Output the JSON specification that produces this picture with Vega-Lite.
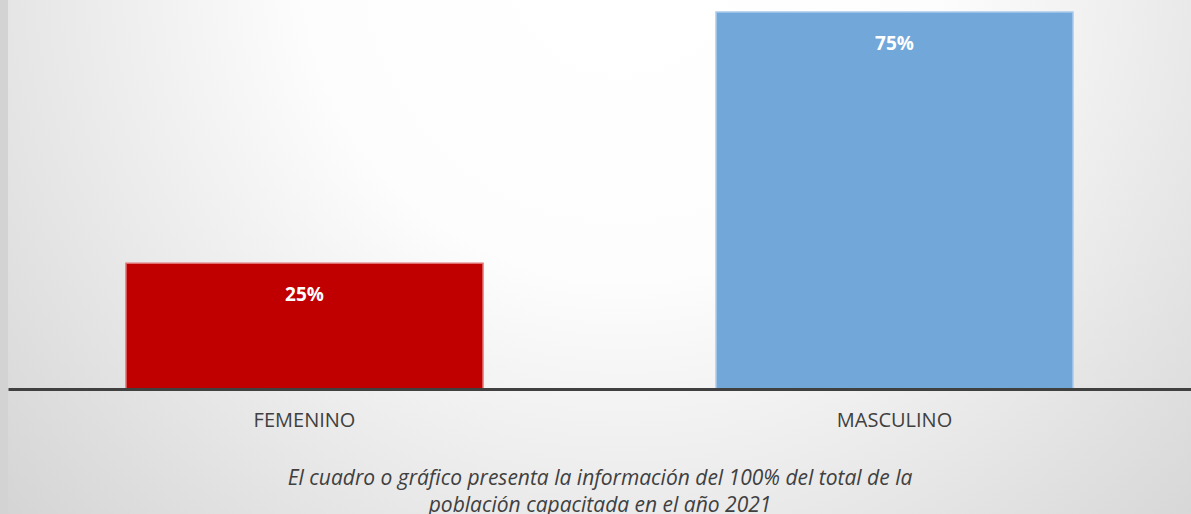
{
  "$schema": "https://vega.github.io/schema/vega-lite/v6.json",
  "width": 1183,
  "height": 514,
  "autosize": {"type": "none"},
  "padding": {"left": 8, "top": 0, "right": 0, "bottom": 0},
  "background": "#d3d3d3",
  "config": {"view": {"stroke": null}},
  "data": {"values": [{"sexo": "FEMENINO", "pct": 25, "label": "25%"}, {"sexo": "MASCULINO", "pct": 75, "label": "75%"}]},
  "layer": [
    {
      "mark": {"type": "rect", "color": {"gradient": "radial", "x1": 0.52, "y1": 0.25, "r1": 0.05, "x2": 0.52, "y2": 0.25, "r2": 0.78, "stops": [{"offset": 0, "color": "#ffffff"}, {"offset": 0.3, "color": "#fdfdfd"}, {"offset": 1, "color": "#cdcdcd"}]}},
      "encoding": {}
    },
    {
      "mark": {"type": "bar", "strokeWidth": 1.5},
      "encoding": {
        "x": {"field": "sexo", "type": "nominal", "sort": null, "scale": {"paddingInner": 0.395, "paddingOuter": 0.2},
          "axis": {"orient": "bottom", "offset": -125, "zindex": 1, "domainColor": "#404040", "domainWidth": 3, "ticks": false, "labelAngle": 0,
            "labelFont": "Open Sans", "labelFontSize": 20, "labelColor": "#404040", "labelPadding": 21,
            "title": ["El cuadro o gráfico presenta la información del 100% del total de la", "población capacitada en el año 2021"],
            "titleFont": "Open Sans", "titleFontStyle": "italic", "titleFontWeight": "normal", "titleFontSize": 21, "titleColor": "#404040", "titleLineHeight": 27, "titlePadding": 37}},
        "y": {"field": "pct", "type": "quantitative", "scale": {"domain": [-24.87, 77.39], "nice": false, "zero": false}, "axis": null},
        "y2": {"datum": 0},
        "color": {"field": "sexo", "type": "nominal", "scale": {"domain": ["FEMENINO", "MASCULINO"], "range": ["#C00000", "#72A7DA"]}, "legend": null},
        "stroke": {"field": "sexo", "type": "nominal", "scale": {"domain": ["FEMENINO", "MASCULINO"], "range": ["#E07070", "#A9CBEA"]}, "legend": null}
      }
    },
    {
      "mark": {"type": "text", "baseline": "middle", "dy": 32, "font": "Open Sans", "fontSize": 19, "fontWeight": "bold", "color": "#ffffff"},
      "encoding": {
        "x": {"field": "sexo", "type": "nominal", "sort": null},
        "y": {"field": "pct", "type": "quantitative"},
        "text": {"field": "label"}
      }
    }
  ]
}
